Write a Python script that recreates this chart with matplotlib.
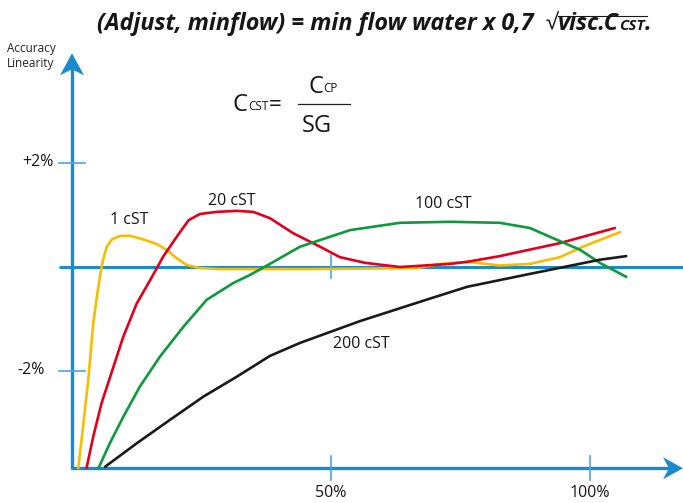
import numpy as np
import matplotlib
matplotlib.use('Agg')
import matplotlib.pyplot as plt
from matplotlib.patches import Polygon

plt.rcParams['font.family'] = ['Open Sans', 'DejaVu Sans']

# flow (% of max) and accuracy deviation (%)
x_1cst = [1.2, 2.2, 3.2, 4.1, 4.8, 5.5, 6.0, 6.7, 7.7, 9.3, 11.2, 13.8, 16.4, 18.3, 20.2, 22.1,
          24.7, 28.6, 45.0, 66.6, 71.0, 76.3, 82.6, 88.4, 94.2, 98.6, 101.9, 105.8]
y_1cst = [-3.88, -3.02, -2.12, -1.09, -0.58, -0.13, 0.13, 0.38, 0.52, 0.59, 0.59, 0.52, 0.43, 0.32,
          0.16, 0.03, -0.03, -0.05, -0.05, -0.03, 0.05, 0.09, 0.02, 0.05, 0.18, 0.38, 0.51, 0.66]
x_20cst = [2.8, 4.1, 5.7, 7.7, 9.9, 12.5, 15.1, 17.6, 20.2, 22.5, 24.7, 27.9, 31.8, 35.0, 38.2,
           42.7, 47.9, 51.7, 56.6, 63.3, 73.0, 76.3, 82.6, 94.2, 104.8]
y_20cst = [-3.88, -3.27, -2.63, -2.02, -1.35, -0.71, -0.26, 0.19, 0.57, 0.89, 1.01, 1.05, 1.07, 1.05,
           0.93, 0.64, 0.38, 0.18, 0.07, -0.01, 0.05, 0.09, 0.20, 0.45, 0.74]
x_100cst = [5.1, 7.3, 9.9, 13.1, 17.0, 21.5, 26.0, 31.1, 34.4, 38.2, 44.0, 53.7, 63.3, 73.0,
            82.6, 88.4, 92.3, 98.1, 101.9, 107.0]
y_100cst = [-3.88, -3.40, -2.89, -2.31, -1.73, -1.16, -0.64, -0.32, -0.16, 0.05, 0.38, 0.70, 0.84,
            0.86, 0.84, 0.74, 0.57, 0.32, 0.07, -0.20]
x_200cst = [6.4, 12.5, 18.9, 25.4, 31.8, 38.2, 44.0, 49.8, 55.6, 68.7, 76.3, 89.0, 101.9, 107.0]
y_200cst = [-3.85, -3.40, -2.95, -2.50, -2.12, -1.72, -1.47, -1.26, -1.05, -0.63, -0.39, -0.13,
            0.13, 0.20]

series = [
    (x_1cst, y_1cst, '#f7bd00'),
    (x_20cst, y_20cst, '#e2001a'),
    (x_100cst, y_100cst, '#0b9a3c'),
    (x_200cst, y_200cst, '#1a1a1a'),
]
labels = ['1 cST', '20 cST', '100 cST', '200 cST']
label_pos = [(11.0, 0.89), (30.9, 1.26), (71.6, 1.20), (55.8, -1.50)]

xticks = [50, 100]
xticklabels = ['50%', '100%']
yticks = [2, -2]
yticklabels = ['+2%', '-2%']

blue = '#1a8ccd'
tickblue = '#4ea6dc'
ink = '#161616'
sx, sy = 5.18, 52.0   # pixels per unit

fig = plt.figure(figsize=(6.83, 5.03), dpi=100)
ax = fig.add_axes([0, 0, 1, 1])
ax.set_xlim(-72 / sx, (683 - 72) / sx)
ax.set_ylim((266.5 - 503) / sy, 266.5 / sy)
ax.axis('off')

ybot = -3.88
ytop = 4.1
xend = ax.get_xlim()[1]

# axes
ax.plot([-2.5, xend], [0, 0], color=blue, lw=2.2, solid_capstyle='butt', zorder=1)
ax.plot([0, 0], [ybot - 0.02, ytop - 0.2], color=blue, lw=2.4, solid_capstyle='butt', zorder=1)
ax.plot([-0.2, xend - 2.0], [ybot, ybot], color=blue, lw=2.4, solid_capstyle='butt', zorder=1)

def head(tip, direction, length=22, width=24, notch=6):
    tx, ty = tip
    if direction == 'up':
        pts = [(tx, ty), (tx + width / 2 / sx, ty - length / sy),
               (tx, ty - (length - notch) / sy), (tx - width / 2 / sx, ty - length / sy)]
    else:
        pts = [(tx, ty), (tx - length / sx, ty - width / 2 / sy),
               (tx - (length - notch) / sx, ty), (tx - length / sx, ty + width / 2 / sy)]
    ax.add_patch(Polygon(pts, closed=True, color=blue, lw=0, zorder=2))

head((0, ytop), 'up')
head((xend, ybot), 'right', length=20, width=22)

# ticks
for yv, lab, xr in zip(yticks, yticklabels, [-3.6, -5.3]):
    ax.plot([-2.5, 2.5], [yv, yv], color=tickblue, lw=1.2, zorder=1)
    ax.text(xr, yv, lab, ha='right', va='center', fontsize=11.5, color=ink)
for xv, lab in zip(xticks, xticklabels):
    ax.plot([xv, xv], [ybot - 0.23, ybot + 0.23], color=tickblue, lw=1.2, zorder=1)
    ax.text(xv, ybot - 0.48, lab, ha='center', va='center', fontsize=11.5, color=ink)
ax.plot([50, 50], [-0.23, 0.23], color=tickblue, lw=1.2, zorder=1)

# curves
for (xs, ys, c), lab, (lx, ly) in zip(series, labels, label_pos):
    ax.plot(xs, ys, color=c, lw=1.9, solid_joinstyle='round', solid_capstyle='round', zorder=3)
    ax.text(lx, ly, lab, ha='center', va='center', fontsize=11.5, color=ink)

ax.text(-12.5, 4.04, 'Accuracy\nLinearity', ha='left', va='center', fontsize=8.5,
        color='#222222', linespacing=1.2)

fig.canvas.draw()
r = fig.canvas.get_renderer()
inv = ax.transData.inverted()

def chain(x, y, pieces):
    # pieces: (text, fontsize, dy_in_px, extra style); returns end x
    out = []
    for s, fs, dy, st in pieces:
        t = ax.text(x, y + dy / sy, s, fontsize=fs, color=ink, va='baseline', ha='left', **st)
        out.append(t)
        x = inv.transform((t.get_window_extent(r).x1, 0))[0]
    return x, out

# formula C_CST = C_CP / SG
chain((233 - 72) / sx, (266.5 - 111) / sy,
      [('C', 17, 0, {}), ('CST', 8.5, 1, {}), ('=', 16, 0, {})])
chain((308 - 72) / sx, (266.5 - 93) / sy, [('C', 17, 0, {}), ('CP', 8.5, 1, {})])
ax.plot([(298 - 72) / sx, (350 - 72) / sx], [(266.5 - 104) / sy] * 2, color='#222222', lw=0.9)
ax.text((317 - 72) / sx, (266.5 - 132) / sy, 'SG', fontsize=17, color=ink, va='baseline', ha='center')

# title, built piece by piece
bi = dict(fontweight='bold', fontstyle='italic')
ybase = (266.5 - 30) / sy
xa = (97 - 72) / sx
xb, ts = chain(xa, ybase, [('(Adjust, minflow) = min flow water x 0,7  ', 16.8, 0, bi),
                           ('\u221a', 16, 0, {})])
xc, ts2 = chain(xb, ybase, [('visc.C', 16.8, 0, bi), ('CST', 11, 0, bi), ('.', 16.8, 0, bi)])
ytl = inv.transform((0, ts[1].get_window_extent(r).y1))[1]
ax.plot([xb - 0.1, xc - 0.9], [ytl - 0.03, ytl - 0.03], color=ink, lw=0.8)

fig.savefig('out.png', dpi=100)
